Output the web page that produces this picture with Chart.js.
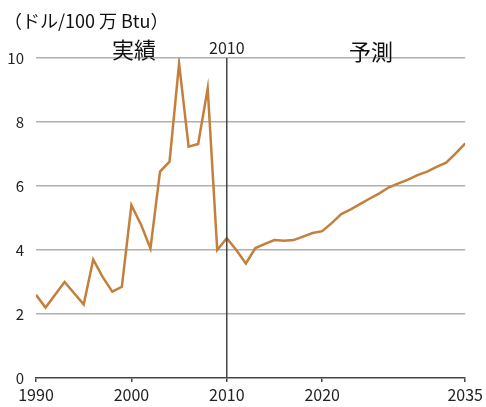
<!DOCTYPE html>
<html>
<head>
<meta charset="utf-8">
<script src="https://cdn.jsdelivr.net/npm/chart.js@4/dist/chart.umd.min.js"></script>
<style>
    html, body { margin: 0; padding: 0; background: #fff; }
    #wrap { width: 486px; height: 407px; }
</style>
</head>
<body>
<div id="wrap"><canvas id="chart" width="486" height="407"></canvas></div>
<script>
// 年（1990〜2035）
const years = [];
for (let y = 1990; y <= 2035; y++) years.push(y);

// 価格（ドル/100万Btu）：2010年までは実績、それ以降は予測
const prices = [
    2.6, 2.2, 2.6, 3.0, 2.65, 2.3, 3.7, 3.15, 2.7, 2.85,
    5.4, 4.8, 4.05, 6.45, 6.76, 9.83, 7.23, 7.31, 9.05, 4.0,
    4.37, 4.0, 3.58, 4.06, 4.19, 4.31, 4.29, 4.31, 4.42, 4.53,
    4.59, 4.84, 5.12, 5.27, 5.44, 5.61, 5.77, 5.96, 6.08, 6.2,
    6.34, 6.45, 6.6, 6.73, 7.02, 7.33
];

const xTicks = [1990, 2000, 2010, 2020, 2035];
const yTicks = [0, 2, 4, 6, 8, 10];
const splitYear = 2010;

const CJK = '"Noto Sans CJK JP", "Noto Sans", sans-serif';

// 2010年の縦線と注記テキスト
const annotations = {
    id: 'annotations',
    afterDatasetsDraw(chart) {
        const { ctx, scales: { x, y } } = chart;
        const px = x.getPixelForValue(splitYear);
        ctx.save();
        ctx.strokeStyle = '#444';
        ctx.lineWidth = 1.5;
        ctx.beginPath();
        ctx.moveTo(px, y.getPixelForValue(10));
        ctx.lineTo(px, y.getPixelForValue(0));
        ctx.stroke();

        ctx.fillStyle = '#111';
        ctx.textBaseline = 'middle';
        ctx.textAlign = 'left';
        ctx.font = '18px ' + CJK;
        ctx.fillText('（ドル/100 万 Btu）', 4, 21);

        ctx.textAlign = 'center';
        ctx.font = '22px ' + CJK;
        ctx.fillText('実績', 134, 50);
        ctx.fillText('予測', 371, 52);

        ctx.fillStyle = '#222';
        ctx.font = '16px ' + CJK;
        ctx.fillText(String(splitYear), px, 48);
        ctx.restore();
    }
};

new Chart(document.getElementById('chart'), {
    type: 'line',
    data: {
        datasets: [{
            data: years.map((yr, i) => ({ x: yr, y: prices[i] })),
            borderColor: '#c47f3a',
            borderWidth: 2.5,
            pointRadius: 0,
            tension: 0,
            fill: false
        }]
    },
    options: {
        responsive: false,
        animation: false,
        layout: { padding: { top: 58, right: 20, left: 0, bottom: 0 } },
        plugins: {
            legend: { display: false },
            tooltip: { enabled: false }
        },
        scales: {
            x: {
                type: 'linear',
                min: 1990,
                max: 2035,
                afterBuildTicks: (scale) => {
                    scale.ticks = xTicks.map(v => ({ value: v }));
                },
                afterFit: (scale) => { scale.height = 29; },
                border: { display: true, color: '#444', width: 1.5 },
                grid: {
                    drawOnChartArea: false,
                    drawTicks: true,
                    tickLength: 4,
                    color: '#444',
                    lineWidth: 1.5
                },
                ticks: {
                    padding: 3,
                    color: '#222',
                    maxRotation: 0,
                    autoSkip: false,
                    font: { family: CJK, size: 16 },
                    callback: (v) => String(v)
                }
            },
            y: {
                min: 0,
                max: 10,
                afterBuildTicks: (scale) => {
                    scale.ticks = yTicks.map(v => ({ value: v }));
                },
                afterFit: (scale) => { scale.width = 36; },
                border: { display: false },
                grid: {
                    drawTicks: false,
                    color: (ctx) => ctx.tick.value === 0 ? 'rgba(0,0,0,0)' : '#b0b0b0',
                    lineWidth: 1.5
                },
                ticks: {
                    padding: 12,
                    color: '#222',
                    font: { family: CJK, size: 15 }
                }
            }
        }
    },
    plugins: [annotations]
});
</script>
</body>
</html>
